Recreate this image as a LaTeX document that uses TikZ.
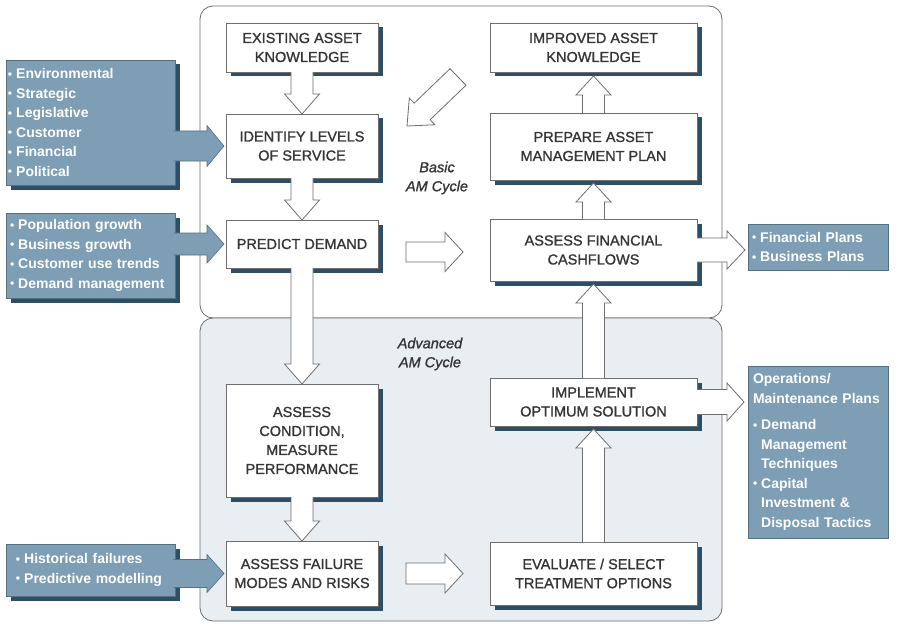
\documentclass[tikz,border=0pt]{standalone}
\usepackage{fontspec}
\setmainfont{Liberation Sans}
\newfontfamily\medfont{Liberation Sans}[FakeBold=1.2]
\usetikzlibrary{calc,shadows}
\definecolor{shadowc}{HTML}{2C4F66}
\definecolor{inputc}{HTML}{7D9EB5}
\definecolor{txtc}{HTML}{353535}
\definecolor{advc}{HTML}{E9EEF2}
\definecolor{linec}{HTML}{6E6E6E}
\definecolor{inbord}{HTML}{55707F}
\newcommand\blt{{\fontsize{12pt}{12pt}\selectfont\raisebox{0.5pt}{\textbullet}}\hspace{4pt}}
\newcommand\bx[7]{\node[#6, anchor=north west, minimum width={#4-#2}, minimum height={#5-#3}] (#1) at (#2,#3) {#7};}
\newcommand\barrowpts[6]{%
  \coordinate (ba-s) at (#2); \coordinate (ba-t) at (#3);
  \coordinate (ba-h) at ($(ba-t)!#6pt!(ba-s)$);
  \coordinate (ba-1) at ($(ba-s)!#4pt!90:(ba-t)$);
  \coordinate (ba-2) at ($(ba-h)!#4pt!-90:(ba-s)$);
  \coordinate (ba-3) at ($(ba-h)!#5pt!-90:(ba-s)$);
  \coordinate (ba-4) at ($(ba-h)!#5pt!90:(ba-s)$);
  \coordinate (ba-5) at ($(ba-h)!#4pt!90:(ba-s)$);
  \coordinate (ba-6) at ($(ba-s)!#4pt!-90:(ba-t)$);
  \path[#1, draw=none] (ba-1) -- (ba-2) -- (ba-3) -- (ba-t) -- (ba-4) -- (ba-5) -- (ba-6) -- cycle;}
% open-tail block arrow
\newcommand\blockarrow[6]{\barrowpts{#1}{#2}{#3}{#4}{#5}{#6}%
  \path[#1, fill=none] (ba-1) -- (ba-2) -- (ba-3) -- (ba-t) -- (ba-4) -- (ba-5) -- (ba-6);}
% closed block arrow
\newcommand\blockarrowc[6]{\barrowpts{#1}{#2}{#3}{#4}{#5}{#6}%
  \path[#1, fill=none] (ba-1) -- (ba-2) -- (ba-3) -- (ba-t) -- (ba-4) -- (ba-5) -- (ba-6) -- cycle;}

\begin{document}
\begin{tikzpicture}[x=1pt,y=-1pt,
  stepbox/.style={draw=linec, line width=0.8pt, fill=white, inner sep=0pt, outer sep=0pt,
    align=center, text=txtc, font=\medfont\fontsize{14.5pt}{19pt}\selectfont,
    drop shadow={shadow xshift=4.5pt, shadow yshift=-4.5pt, fill=shadowc, opacity=1}},
  inbox/.style={draw=inbord, line width=0.6pt, fill=inputc, inner ysep=0pt, outer sep=0pt,
    align=left, text=white, font=\bfseries\fontsize{14pt}{19.5pt}\selectfont,
    drop shadow={shadow xshift=4.5pt, shadow yshift=-4.5pt, fill=shadowc, opacity=1}},
  outbox/.style={draw=inbord, line width=0.8pt, fill=inputc, inner ysep=0pt, outer sep=0pt,
    align=left, text=white, font=\bfseries\fontsize{14pt}{19.5pt}\selectfont},
  container/.style={draw=linec, line width=0.8pt, rounded corners=13pt},
  cyclelabel/.style={text=txtc, align=center, font=\medfont\itshape\fontsize{14.5pt}{19pt}\selectfont},
  hollow/.style={fill=white, draw=linec, line width=0.8pt, line join=miter},
  inarrow/.style={fill=inputc, draw=inbord, line width=0.6pt, line join=miter}]
\useasboundingbox (0,0) rectangle (898,626);
\fill[white] (0,0) rectangle (898,626);

% containers
\draw[container, fill=white] (200,6) rectangle (722,318);
\draw[container, fill=advc] (200,318) rectangle (722,621);

% main process boxes
\bx{exist}{226}{23}{378}{72}{stepbox}{EXISTING ASSET\\KNOWLEDGE}
\bx{ident}{226}{114}{378}{178}{stepbox}{IDENTIFY LEVELS\\OF SERVICE}
\bx{pred}{226}{220}{378}{268}{stepbox}{PREDICT DEMAND}
\bx{cond}{226}{384}{378}{497}{stepbox}{ASSESS\\CONDITION,\\MEASURE\\PERFORMANCE}
\bx{fail}{226}{541}{378}{606}{stepbox}{ASSESS FAILURE\\MODES AND RISKS}
\bx{impr}{490}{23}{697}{72}{stepbox}{IMPROVED ASSET\\KNOWLEDGE}
\bx{plan}{490}{113}{697}{180}{stepbox}{PREPARE ASSET\\MANAGEMENT PLAN}
\bx{fin}{490}{219}{697}{281}{stepbox}{ASSESS FINANCIAL\\CASHFLOWS}
\bx{impl}{490}{378}{697}{426}{stepbox}{IMPLEMENT\\OPTIMUM SOLUTION}
\bx{eval}{490}{542}{697}{605}{stepbox}{EVALUATE / SELECT\\TREATMENT OPTIONS}

% input boxes
\bx{in1}{6}{60}{175}{185}{inbox, inner xsep=2pt, text width=165pt}{\blt Environmental\\\blt Strategic\\\blt Legislative\\\blt Customer\\\blt Financial\\\blt Political}
\bx{in2}{6}{213}{175}{298}{inbox, inner xsep=4pt, text width=161pt}{\blt Population growth\\\blt Business growth\\\blt Customer use trends\\\blt Demand management}
\bx{in3}{6}{544}{175}{596}{inbox, inner xsep=10pt, text width=149pt}{\blt Historical failures\\\blt Predictive modelling}

% output boxes
\bx{out1}{748}{224}{888}{270}{outbox, inner xsep=4pt, text width=132pt}{\blt Financial Plans\\\blt Business Plans}
\bx{out2}{748}{366}{888}{538}{outbox, inner xsep=5pt, text width=130pt}{Operations/\\Maintenance Plans\\[7pt]\blt Demand\\\hphantom{\blt}Management\\\hphantom{\blt}Techniques\\\blt Capital\\\hphantom{\blt}Investment \&\\\hphantom{\blt}Disposal Tactics}

% cycle labels
\node[cyclelabel] (basic) at (437,178) {Basic\\AM Cycle};
\node[cyclelabel] (adv) at (430,354) {Advanced\\AM Cycle};

% left column arrows (down)
\blockarrow{hollow}{exist.south}{ident.north}{11}{17.5}{20}
\blockarrow{hollow}{ident.south}{pred.north}{11}{17.5}{20}
\blockarrow{hollow}{pred.south}{cond.north}{11}{17.5}{20}
\blockarrow{hollow}{cond.south}{fail.north}{11}{17.5}{20}

% right column arrows (up)
\blockarrow{hollow}{eval.north}{$(impl.south)+(0,3)$}{11}{17.5}{19}
\blockarrow{hollow}{impl.north}{$(fin.south)+(0,3)$}{11}{17.5}{19}
\blockarrow{hollow}{fin.north}{$(plan.south)+(0,3)$}{11}{17.5}{19}
\blockarrow{hollow}{plan.north}{$(impr.south)+(0,4)$}{11}{17.5}{19}

% free arrows between columns
\coordinate (m1) at ($(pred.east |- fin.west)!0.5!(fin.west)$);
\blockarrowc{hollow}{$(m1)+(-28,2)$}{$(m1)+(29,2)$}{10}{19.5}{18}
\coordinate (m2) at ($(fail.east |- eval.west)!0.5!(eval.west)$);
\blockarrowc{hollow}{$(m2)+(-28,0)$}{$(m2)+(29,0)$}{10.5}{19.5}{18}
\coordinate (d1) at (458,77);
\coordinate (d2) at (407,126);
\blockarrowc{hollow}{d1}{d2}{11.5}{18.5}{21}

% input arrows
\blockarrow{inarrow}{$(in1.east |- ident.west)+(-1.5,0)$}{$(ident.west)+(-2,0)$}{15}{20.5}{17}
\blockarrow{inarrow}{$(in2.east |- pred.west)+(-1.5,0)$}{$(pred.west)+(-2,0)$}{11}{19}{17}
\blockarrow{inarrow}{$(in3.east |- fail.west)+(-1.5,0)$}{$(fail.west)+(-2,0)$}{14}{19}{17}

% output arrows
\blockarrow{hollow}{fin.east}{$(fin.east -| out1.west)+(-3,0)$}{12}{19}{18}
\blockarrow{hollow}{impl.east}{$(impl.east -| out2.west)+(-4,0)$}{12.5}{19}{17}
\end{tikzpicture}
\end{document}
